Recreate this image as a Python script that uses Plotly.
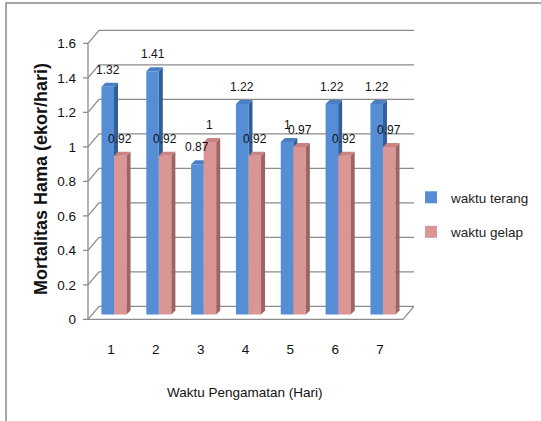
import plotly.graph_objects as go

# ---------------- data ----------------
days = [1, 2, 3, 4, 5, 6, 7]
day_labels = ["1", "2", "3", "4", "5", "6", "7"]
waktu_terang = [1.32, 1.41, 0.87, 1.22, 1.00, 1.22, 1.22]
waktu_gelap = [0.92, 0.92, 1.00, 0.92, 0.97, 0.92, 0.97]
terang_labels = ["1.32", "1.41", "0.87", "1.22", "1", "1.22", "1.22"]
gelap_labels = ["0.92", "0.92", "1", "0.92", "0.97", "0.92", "0.97"]
y_ticks = [0, 0.2, 0.4, 0.6, 0.8, 1.0, 1.2, 1.4, 1.6]
y_tick_labels = ["0", "0.2", "0.4", "0.6", "0.8", "1", "1.2", "1.4", "1.6"]

# ---------------- layout geometry ----------------
W, H = 541, 421
ML, MR, MT, MB = 78, 121, 21, 98
PW = W - ML - MR
PH = H - MT - MB
PX_PER_X = 44.83
PX_PER_Y = 172.5
XL = 0.42                      # front-left wall edge (pixel 88)
x_start = XL - (88 - ML) / PX_PER_X
x_range = [x_start, x_start + PW / PX_PER_X]
y_range = [-0.05, -0.05 + PH / PX_PER_Y]
FY = -0.029                    # front plane offset (value units)
XR = XL + 315 / PX_PER_X       # right end of floor front edge
DX, DY = 11 / PX_PER_X, 13 / PX_PER_Y   # chart depth
BDX, BDY = 4 / PX_PER_X, 4 / PX_PER_Y   # bar depth
TICK = 5 / PX_PER_X
BARGAP = 0.44
BW = (1 - BARGAP) / 2

def paper_x(p):
    return (p - ML) / PW

def paper_y(q):
    return (H - MB - q) / PH

FONT = "Liberation Sans, Arial, sans-serif"
GRID = "#8c8c8c"
TXT = "#111111"

BLUE, BLUE_TOP, BLUE_SIDE = "#558ED5", "#4A7FC4", "#325E98"
PINK, PINK_TOP, PINK_SIDE = "#D99694", "#C98482", "#9C6462"

fig = go.Figure()
fig.add_trace(go.Bar(x=days, y=waktu_terang, name="waktu terang",
                     marker=dict(color=BLUE, line=dict(width=0)),
                     legendgroup="a"))
fig.add_trace(go.Bar(x=days, y=waktu_gelap, name="waktu gelap",
                     marker=dict(color=PINK, line=dict(width=0)),
                     legendgroup="b"))

shapes = []
# walls, gridlines and front-axis ticks
for v in y_ticks:
    y0 = v + FY
    shapes.append(dict(type="path", xref="x", yref="y", layer="below",
                       path=f"M{XL},{y0} L{XL+DX},{y0+DY} L{XR+DX},{y0+DY}",
                       line=dict(color=GRID, width=1.3)))
    shapes.append(dict(type="line", xref="x", yref="y", layer="below",
                       x0=XL - TICK, x1=XL, y0=y0, y1=y0,
                       line=dict(color=GRID, width=1.3)))
# floor front / right edges
shapes.append(dict(type="path", xref="x", yref="y", layer="below",
                   path=f"M{XL},{FY} L{XR},{FY} L{XR+DX},{FY+DY}",
                   line=dict(color=GRID, width=1.3)))
# front vertical axis
shapes.append(dict(type="line", xref="x", yref="y", layer="below",
                   x0=XL, x1=XL, y0=FY, y1=y_ticks[-1] + FY,
                   line=dict(color=GRID, width=1.3)))

def bar_faces(a, v, top_c, side_c, layer):
    b = a + BW
    side = f"M{b},0 L{b+BDX},{BDY} L{b+BDX},{v+BDY} L{b},{v} Z"
    top = f"M{a},{v} L{b},{v} L{b+BDX},{v+BDY} L{a+BDX},{v+BDY} Z"
    return [dict(type="path", xref="x", yref="y", layer=layer, path=side,
                 fillcolor=side_c, line=dict(width=0)),
            dict(type="path", xref="x", yref="y", layer=layer, path=top,
                 fillcolor=top_c, line=dict(width=0))]

for d, vt, vg in zip(days, waktu_terang, waktu_gelap):
    shapes += bar_faces(d - BW, vt, BLUE_TOP, BLUE_SIDE, "between")
    shapes += bar_faces(d, vg, PINK_TOP, PINK_SIDE, "above")

# outer frame
shapes.append(dict(type="rect", xref="paper", yref="paper",
                   x0=paper_x(6), x1=paper_x(560), y0=paper_y(440), y1=paper_y(3),
                   line=dict(color="#8a8a8a", width=1.5)))

annotations = []
for d, vt, vg, lt, lg in zip(days, waktu_terang, waktu_gelap, terang_labels, gelap_labels):
    annotations.append(dict(x=d - BW / 2, y=vt, xref="x", yref="y", text=lt,
                            showarrow=False, yanchor="bottom", yshift=8,
                            font=dict(family=FONT, size=12, color=TXT)))
    annotations.append(dict(x=d + BW / 2, y=vg, xref="x", yref="y", text=lg,
                            showarrow=False, yanchor="bottom", yshift=8,
                            font=dict(family=FONT, size=12, color=TXT)))
annotations.append(dict(text="Mortalitas Hama (ekor/hari)", textangle=-90,
                        xref="paper", yref="paper", x=paper_x(41), y=paper_y(179),
                        showarrow=False, xanchor="center", yanchor="middle",
                        font=dict(family=FONT, size=18, color=TXT, weight="bold")))
annotations.append(dict(text="Waktu Pengamatan (Hari)",
                        xref="paper", yref="paper", x=paper_x(245), y=paper_y(392),
                        showarrow=False, xanchor="center", yanchor="middle",
                        font=dict(family=FONT, size=13.5, color=TXT)))

fig.update_layout(
    width=W, height=H,
    margin=dict(l=ML, r=MR, t=MT, b=MB, autoexpand=False),
    paper_bgcolor="white", plot_bgcolor="rgba(0,0,0,0)",
    barmode="group", bargap=BARGAP, bargroupgap=0,
    shapes=shapes, annotations=annotations,
    showlegend=True,
    legend=dict(x=paper_x(411), y=paper_y(215), xanchor="left", yanchor="middle",
                font=dict(family=FONT, size=13.5, color="#222"),
                itemwidth=30, tracegroupgap=14, bgcolor="rgba(0,0,0,0)"),
    xaxis=dict(range=x_range, showgrid=False, zeroline=False, showline=False,
               tickvals=days, ticktext=day_labels, ticks="",
               ticklabelstandoff=16, ticklabelshift=-3,
               tickfont=dict(family=FONT, size=13.5, color=TXT)),
    yaxis=dict(range=y_range, showgrid=False, zeroline=False, showline=False,
               tickvals=y_ticks, ticktext=y_tick_labels, ticks="",
               ticklabelstandoff=1, ticklabelshift=5,
               tickfont=dict(family=FONT, size=13.5, color=TXT)),
)

fig.write_html("out.html", config={"displayModeBar": False},
               post_script="document.body.style.margin='0px';")
